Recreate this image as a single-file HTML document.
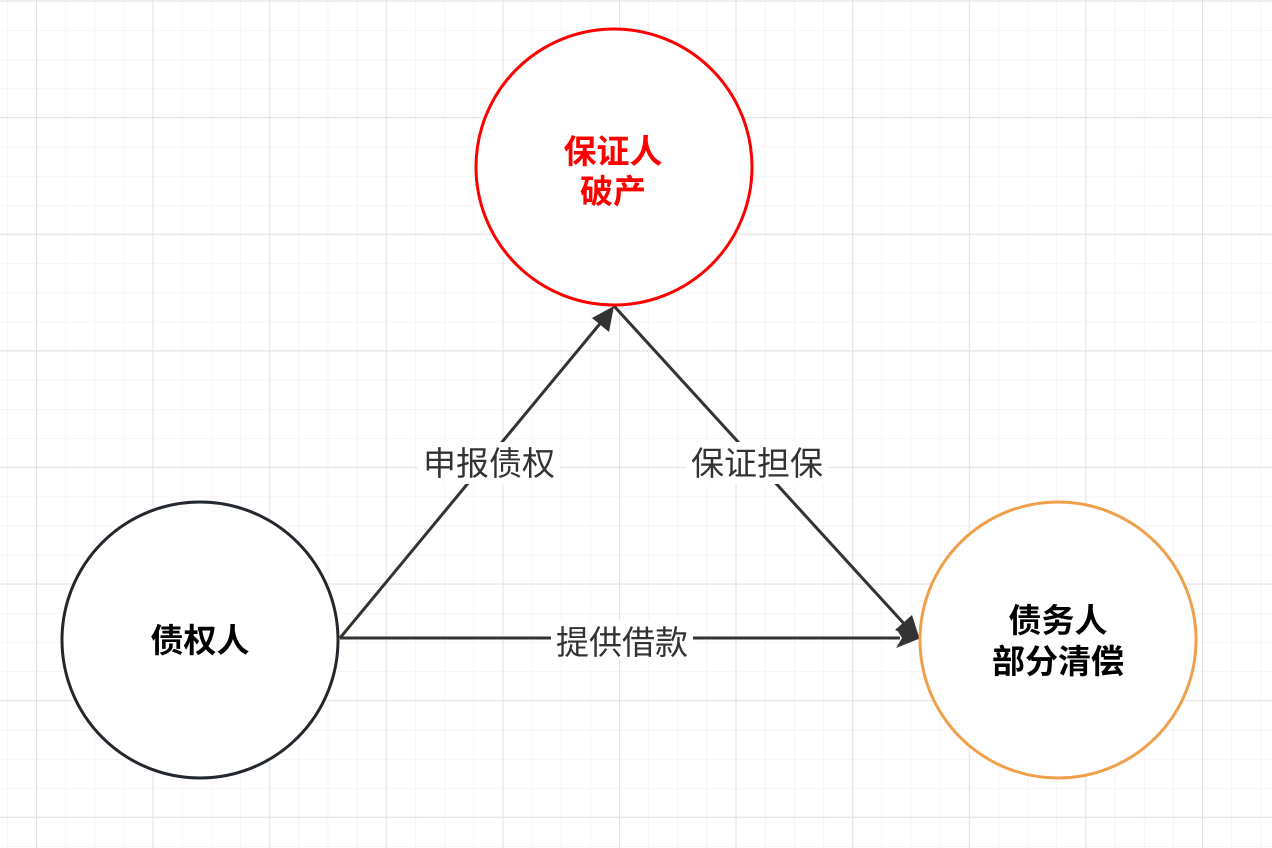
<!DOCTYPE html>
<html><head><meta charset="utf-8"><style>
html,body{margin:0;padding:0;background:#fff}
svg{display:block}
text{font-family:"Liberation Sans","Noto Sans CJK SC",sans-serif}
</style></head><body>
<svg width="1272" height="848" viewBox="0 0 1272 848" xmlns="http://www.w3.org/2000/svg">
<defs>
<pattern id="minor" x="7" y="1" width="29.15" height="29.15" patternUnits="userSpaceOnUse">
<path d="M0 0V29.15M0 0H29.15" stroke="#efefef" stroke-width="1.2" fill="none"/>
</pattern>
<pattern id="major" x="36" y="0.5" width="116.6" height="116.6" patternUnits="userSpaceOnUse">
<path d="M0 0V116.6M0 0H116.6" stroke="#e2e2e2" stroke-width="2" fill="none"/>
</pattern>
</defs>
<rect width="1272" height="848" fill="url(#minor)"/>
<rect width="1272" height="848" fill="url(#major)"/>
<g stroke="#333" stroke-width="3" fill="none">
<line x1="340" y1="638" x2="603" y2="320"/>
<line x1="614" y1="306" x2="907" y2="627"/>
<line x1="340" y1="638" x2="900" y2="638"/>
</g>
<g fill="#333">
<polygon points="614,306 609,332 592,318"/>
<polygon points="920,640 895,630 912,615"/>
<polygon points="921,638 896,648 902,638 896,628"/>
</g>
<circle cx="614" cy="167" r="138" fill="#fff" stroke="#ff0000" stroke-width="3"/>
<circle cx="200" cy="640" r="138" fill="#fff" stroke="#23282e" stroke-width="3"/>
<circle cx="1058" cy="640" r="138" fill="#fff" stroke="#f0a04b" stroke-width="3"/>
<g font-size="33" fill="#333" text-anchor="middle">
<rect x="418" y="442" width="142" height="42" fill="#fff"/>
<text x="489" y="475">申报债权</text>
<rect x="686" y="442" width="142" height="42" fill="#fff"/>
<text x="757" y="475">保证担保</text>
<rect x="551" y="620" width="142" height="40" fill="#fff"/>
<text x="622" y="654">提供借款</text>
</g>
<g font-size="33" font-weight="bold" text-anchor="middle">
<text x="613" y="163" fill="#ff0000">保证人</text>
<text x="613" y="203" fill="#ff0000">破产</text>
<text x="200" y="652" fill="#000">债权人</text>
<text x="1058" y="632" fill="#000">债务人</text>
<text x="1058" y="673" fill="#000">部分清偿</text>
</g>
</svg>
</body></html>
